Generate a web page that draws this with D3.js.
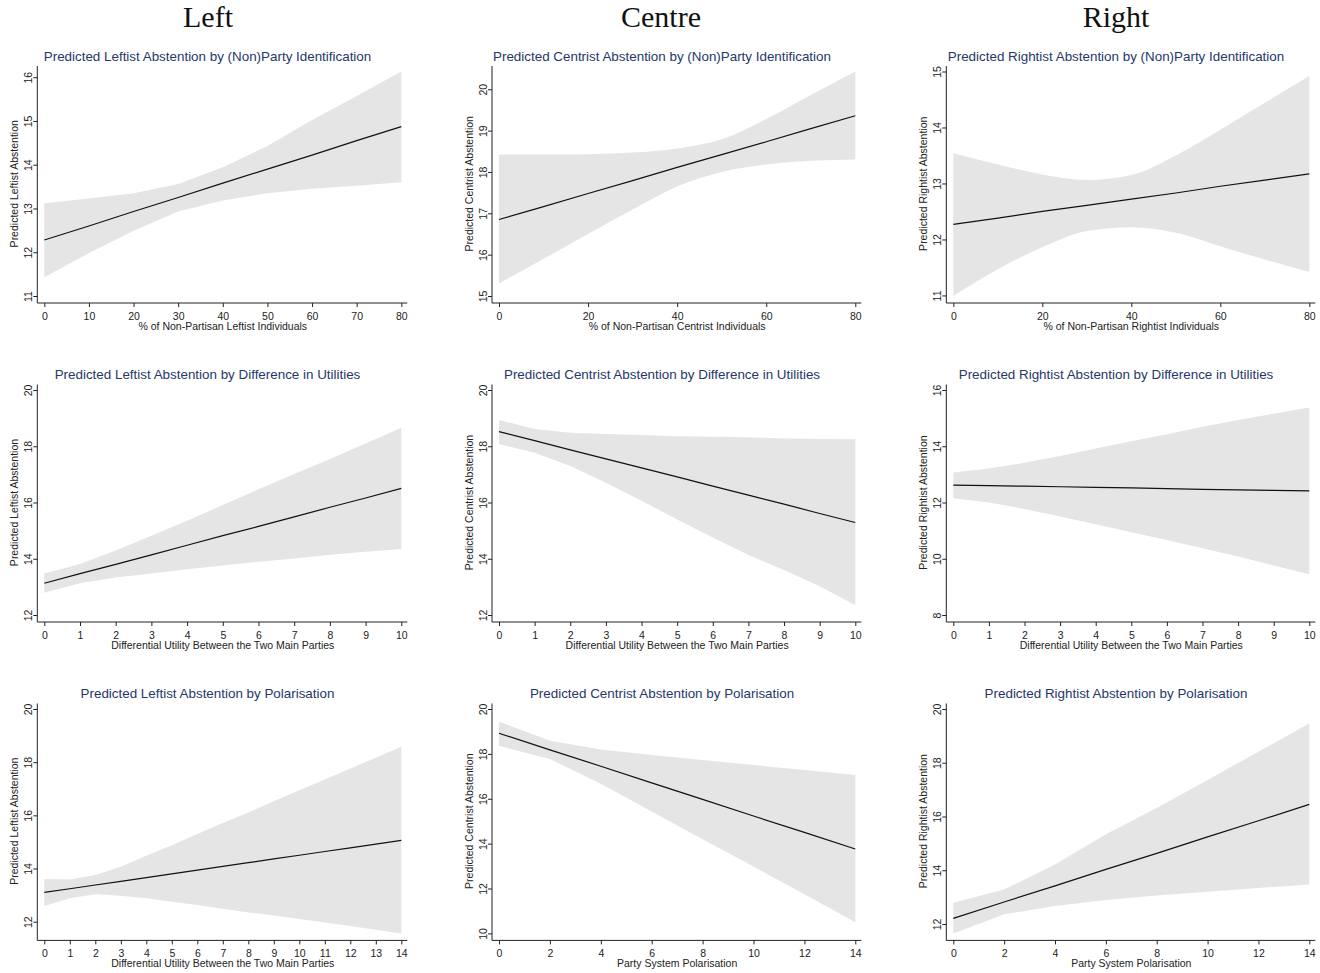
<!DOCTYPE html>
<html><head><meta charset="utf-8">
<script src="https://cdn.jsdelivr.net/npm/d3@7/dist/d3.min.js"></script>
<style>
body{margin:0;background:#fff;}
svg{display:block;}
</style></head>
<body>
<svg id="chart" width="1320" height="973"></svg>
<script>
// ---------- Column headers ----------
const columnHeaders = ["Left", "Centre", "Right"];

// ---------- Titles ----------
const panelTitles = [
  "Predicted Leftist Abstention by (Non)Party Identification",
  "Predicted Centrist Abstention by (Non)Party Identification",
  "Predicted Rightist Abstention by (Non)Party Identification",
  "Predicted Leftist Abstention by Difference in Utilities",
  "Predicted Centrist Abstention by Difference in Utilities",
  "Predicted Rightist Abstention by Difference in Utilities",
  "Predicted Leftist Abstention by Polarisation",
  "Predicted Centrist Abstention by Polarisation",
  "Predicted Rightist Abstention by Polarisation"
];
const xAxisTitles = [
  "% of Non-Partisan Leftist Individuals",
  "% of Non-Partisan Centrist Individuals",
  "% of Non-Partisan Rightist Individuals",
  "Differential Utility Between the Two Main Parties",
  "Differential Utility Between the Two Main Parties",
  "Differential Utility Between the Two Main Parties",
  "Differential Utility Between the Two Main Parties",
  "Party System Polarisation",
  "Party System Polarisation"
];
const yAxisTitles = [
  "Predicted Leftist Abstention", "Predicted Centrist Abstention", "Predicted Rightist Abstention",
  "Predicted Leftist Abstention", "Predicted Centrist Abstention", "Predicted Rightist Abstention",
  "Predicted Leftist Abstention", "Predicted Centrist Abstention", "Predicted Rightist Abstention"
];

// ---------- X values ----------
const xNonParty = [0, 10, 20, 30, 40, 50, 60, 70, 80];
const xUtility = [0, 1, 2, 3, 4, 5, 6, 7, 8, 9, 10];
const xPolarLeft = [0, 1, 2, 3, 4, 5, 6, 7, 8, 9, 10, 11, 12, 13, 14];
const xPolar = [0, 2, 4, 6, 8, 10, 12, 14];

// ---------- Row 1: (Non)Party identification ----------
const leftNonPartyFit = [12.28, 12.60, 12.93, 13.25, 13.58, 13.90, 14.22, 14.55, 14.87];
const leftNonPartyHi  = [13.12, 13.23, 13.35, 13.56, 13.94, 14.43, 15.02, 15.57, 16.13];
const leftNonPartyLo  = [11.43, 11.98, 12.49, 12.93, 13.18, 13.35, 13.45, 13.52, 13.60];

const centreNonPartyFit = [16.85, 17.16, 17.48, 17.79, 18.11, 18.42, 18.73, 19.05, 19.36];
const centreNonPartyHi  = [18.42, 18.42, 18.43, 18.47, 18.57, 18.79, 19.28, 19.86, 20.43];
const centreNonPartyLo  = [15.30, 15.90, 16.50, 17.09, 17.65, 18.00, 18.18, 18.27, 18.30];

const rightNonPartyFit = [12.27, 12.38, 12.50, 12.61, 12.72, 12.83, 12.95, 13.06, 13.17];
const rightNonPartyHi  = [13.54, 13.34, 13.16, 13.06, 13.15, 13.50, 13.96, 14.44, 14.92];
const rightNonPartyLo  = [10.99, 11.47, 11.86, 12.15, 12.22, 12.12, 11.88, 11.64, 11.42];

// ---------- Row 2: Difference in utilities ----------
const leftUtilityFit = [13.13, 13.47, 13.80, 14.14, 14.48, 14.82, 15.15, 15.49, 15.83, 16.16, 16.50];
const leftUtilityHi  = [13.48, 13.81, 14.29, 14.82, 15.35, 15.91, 16.47, 17.01, 17.55, 18.10, 18.66];
const leftUtilityLo  = [12.79, 13.13, 13.33, 13.48, 13.63, 13.76, 13.89, 14.01, 14.14, 14.25, 14.35];

const centreUtilityFit = [18.52, 18.20, 17.87, 17.55, 17.23, 16.91, 16.58, 16.26, 15.94, 15.61, 15.29];
const centreUtilityHi  = [18.93, 18.61, 18.48, 18.44, 18.40, 18.36, 18.34, 18.32, 18.28, 18.26, 18.25];
const centreUtilityLo  = [18.08, 17.77, 17.30, 16.70, 16.06, 15.40, 14.76, 14.13, 13.60, 13.02, 12.35];

const rightUtilityFit = [12.62, 12.60, 12.58, 12.56, 12.54, 12.52, 12.49, 12.47, 12.45, 12.43, 12.41];
const rightUtilityHi  = [13.07, 13.21, 13.41, 13.65, 13.92, 14.18, 14.43, 14.69, 14.93, 15.16, 15.38];
const rightUtilityLo  = [12.15, 12.00, 11.77, 11.50, 11.23, 10.94, 10.67, 10.37, 10.08, 9.76, 9.45];

// ---------- Row 3: Polarisation ----------
const leftPolarFit = [13.10, 13.24, 13.38, 13.52, 13.66, 13.80, 13.94, 14.08, 14.22, 14.36, 14.50, 14.64, 14.78, 14.92, 15.06];
const leftPolarHi  = [13.61, 13.59, 13.76, 14.07, 14.48, 14.88, 15.30, 15.71, 16.11, 16.53, 16.94, 17.35, 17.76, 18.17, 18.58];
const leftPolarLo  = [12.59, 12.88, 13.03, 12.98, 12.88, 12.75, 12.63, 12.49, 12.35, 12.23, 12.10, 11.97, 11.84, 11.70, 11.56];

const centrePolarFit = [18.92, 18.18, 17.45, 16.71, 15.97, 15.23, 14.50, 13.76];
const centrePolarHi  = [19.44, 18.59, 18.20, 17.95, 17.73, 17.50, 17.28, 17.06];
const centrePolarLo  = [18.36, 17.77, 16.67, 15.43, 14.20, 12.98, 11.75, 10.50];

const rightPolarFit = [12.21, 12.82, 13.42, 14.03, 14.63, 15.24, 15.84, 16.45];
const rightPolarHi  = [12.79, 13.28, 14.21, 15.34, 16.32, 17.36, 18.41, 19.46];
const rightPolarLo  = [11.65, 12.36, 12.67, 12.89, 13.06, 13.20, 13.34, 13.47];

// ---------- Tick labels ----------
const yTicksByPanel = [
  [11, 12, 13, 14, 15, 16], [15, 16, 17, 18, 19, 20], [11, 12, 13, 14, 15],
  [12, 14, 16, 18, 20], [12, 14, 16, 18, 20], [8, 10, 12, 14, 16],
  [12, 14, 16, 18, 20], [10, 12, 14, 16, 18, 20], [12, 14, 16, 18, 20]
];
const xTicksByPanel = [
  [0, 10, 20, 30, 40, 50, 60, 70, 80], [0, 20, 40, 60, 80], [0, 20, 40, 60, 80],
  [0, 1, 2, 3, 4, 5, 6, 7, 8, 9, 10], [0, 1, 2, 3, 4, 5, 6, 7, 8, 9, 10], [0, 1, 2, 3, 4, 5, 6, 7, 8, 9, 10],
  [0, 1, 2, 3, 4, 5, 6, 7, 8, 9, 10, 11, 12, 13, 14], [0, 2, 4, 6, 8, 10, 12, 14], [0, 2, 4, 6, 8, 10, 12, 14]
];

// ---------- Panel assembly ----------
const panelX = [xNonParty, xNonParty, xNonParty, xUtility, xUtility, xUtility, xPolarLeft, xPolar, xPolar];
const panelFit = [leftNonPartyFit, centreNonPartyFit, rightNonPartyFit, leftUtilityFit, centreUtilityFit, rightUtilityFit, leftPolarFit, centrePolarFit, rightPolarFit];
const panelHi = [leftNonPartyHi, centreNonPartyHi, rightNonPartyHi, leftUtilityHi, centreUtilityHi, rightUtilityHi, leftPolarHi, centrePolarHi, rightPolarHi];
const panelLo = [leftNonPartyLo, centreNonPartyLo, rightNonPartyLo, leftUtilityLo, centreUtilityLo, rightUtilityLo, leftPolarLo, centrePolarLo, rightPolarLo];
const panelSmooth = [false, true, true, false, false, false, false, false, false];

// ---------- Layout ----------
const colPlotX = [[44.3, 401.3], [499, 855.3], [953.3, 1309.3]];
const colCenter = [207.5, 662, 1116];
const headerCenter = [208, 661, 1116];
const rowPlotY = [[296, 71.5], [615, 390], [933.4, 709]];

const titleColor = "#26376a";
const bandColor = "#e5e5e5";
const sans = "'Liberation Sans', Arial, Helvetica, sans-serif";

const svg = d3.select("#chart");

svg.selectAll("text.header").data(columnHeaders).join("text")
  .attr("class", "header")
  .attr("x", (d, i) => headerCenter[i]).attr("y", 27)
  .attr("text-anchor", "middle")
  .style("font-family", "'Liberation Serif', 'Times New Roman', serif")
  .style("font-size", "30px").style("fill", "#111")
  .text(d => d);

for (let p = 0; p < 9; p++) {
  const row = Math.floor(p / 3), col = p % 3;
  const xs = panelX[p], fit = panelFit[p], hi = panelHi[p], lo = panelLo[p];
  const yt = yTicksByPanel[p], xt = xTicksByPanel[p];
  const yMin = Math.min(yt[0], d3.min(lo), d3.min(fit));
  const yMax = Math.max(yt[yt.length - 1], d3.max(hi), d3.max(fit));
  const xScale = d3.scaleLinear().domain([xt[0], xt[xt.length - 1]]).range(colPlotX[col]);
  const yScale = d3.scaleLinear().domain([yMin, yMax]).range(rowPlotY[row]);
  const bottom = rowPlotY[row][0], top = rowPlotY[row][1];
  const left = colPlotX[col][0], right = colPlotX[col][1];
  const axisY = bottom + 7, axisX = left - 7;

  const g = svg.append("g");
  const curve = panelSmooth[p] ? d3.curveMonotoneX : d3.curveLinear;
  const pts = xs.map((x, i) => ({x, fit: fit[i], hi: hi[i], lo: lo[i]}));

  g.append("path").datum(pts)
    .attr("fill", bandColor).attr("stroke", "none")
    .attr("d", d3.area().curve(curve).x(d => xScale(d.x)).y0(d => yScale(d.lo)).y1(d => yScale(d.hi)));
  g.append("path").datum(pts)
    .attr("fill", "none").attr("stroke", "#111").attr("stroke-width", 1.2)
    .attr("d", d3.line().x(d => xScale(d.x)).y(d => yScale(d.fit)));

  // y axis
  const yAxisG = g.append("g").attr("transform", `translate(${axisX},0)`)
    .call(d3.axisLeft(yScale).tickValues(yt).tickSize(4).tickSizeOuter(0).tickFormat(d3.format("d")));
  yAxisG.select(".domain").attr("d", `M0,${top - 5.5}V${axisY}`).attr("stroke", "#222");
  yAxisG.selectAll(".tick line").attr("stroke", "#222");
  yAxisG.selectAll(".tick text")
    .attr("x", null).attr("dy", null)
    .attr("transform", "translate(-9,0) rotate(-90)")
    .attr("text-anchor", "middle").attr("dominant-baseline", "central")
    .style("font-family", sans).style("font-size", "10.5px").style("fill", "#222");

  // x axis
  const xAxisG = g.append("g").attr("transform", `translate(0,${axisY})`)
    .call(d3.axisBottom(xScale).tickValues(xt).tickSize(4).tickSizeOuter(0).tickFormat(d3.format("d")));
  xAxisG.select(".domain").attr("d", `M${axisX},0H${right + 6}`).attr("stroke", "#222");
  xAxisG.selectAll(".tick line").attr("stroke", "#222");
  xAxisG.selectAll(".tick text")
    .attr("y", 13).attr("dy", null).attr("dominant-baseline", "central")
    .style("font-family", sans).style("font-size", "10.5px").style("fill", "#222");

  // axis titles
  g.append("text")
    .attr("x", (left + right) / 2).attr("y", axisY + 23)
    .attr("text-anchor", "middle").attr("dominant-baseline", "central")
    .style("font-family", sans).style("font-size", "10.5px").style("fill", "#222")
    .text(xAxisTitles[p]);
  g.append("text")
    .attr("transform", `translate(${axisX - 23.5},${(top + bottom) / 2}) rotate(-90)`)
    .attr("text-anchor", "middle").attr("dominant-baseline", "central")
    .style("font-family", sans).style("font-size", "10.5px").style("fill", "#222")
    .text(yAxisTitles[p]);

  // panel title
  g.append("text")
    .attr("x", colCenter[col]).attr("y", top - 15.5)
    .attr("text-anchor", "middle").attr("dominant-baseline", "central")
    .style("font-family", sans).style("font-size", "13.4px").style("fill", titleColor)
    .text(panelTitles[p]);
}
</script>
</body></html>
